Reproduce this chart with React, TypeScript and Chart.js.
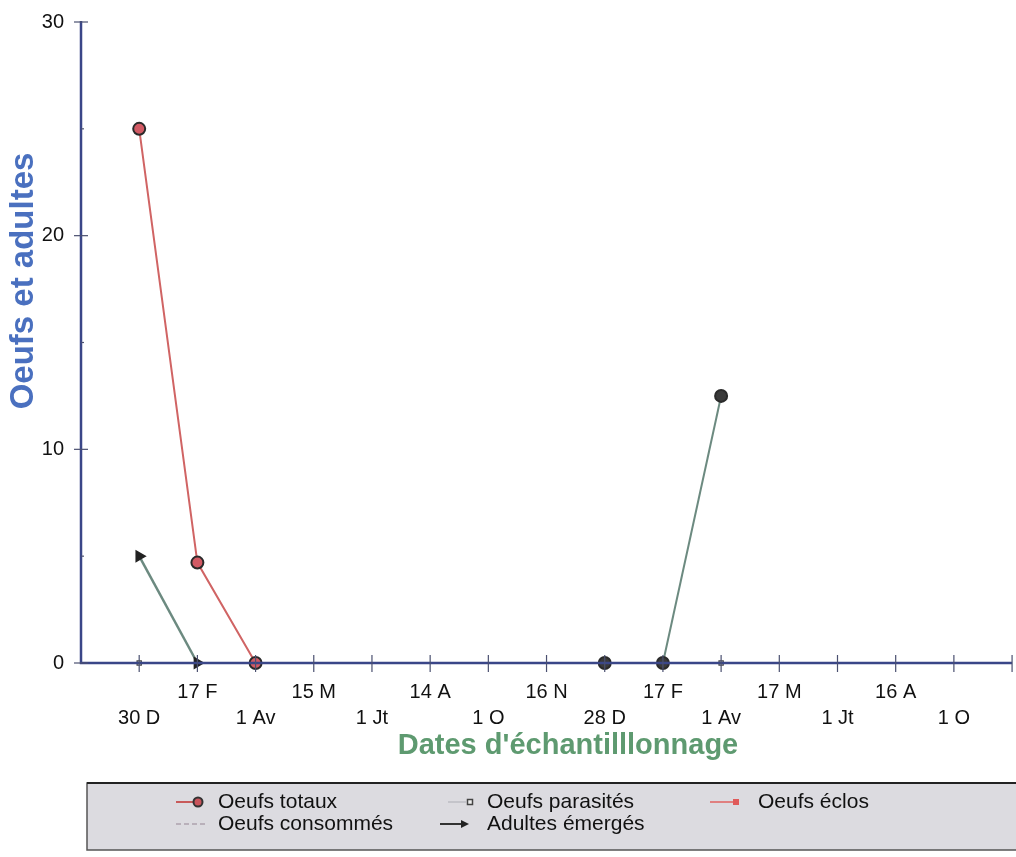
import React, { useEffect, useRef } from "react";
import { Chart, registerables } from "chart.js";

Chart.register(...registerables);

const categories = ["30 D", "17 F", "1 Av", "15 M", "1 Jt", "14 A", "1 O", "16 N", "28 D", "17 F", "1 Av", "17 M", "1 Jt", "16 A", "1 O"];
const oeufsTotaux: (number | null)[] = [25, 4.7, 0, null, null, null, null, null, 0, 0, 12.5, null, null, null, null];
const oeufsParasites: (number | null)[] = [0, null, null, null, null, null, null, null, null, null, 0, null, null, null, null];
const oeufsEclos: (number | null)[] = [0, 0, 0, null, null, null, null, null, 0, 0, 0, null, null, null, null];
const oeufsConsommes: (number | null)[] = [0, 0, 0, null, null, null, null, null, 0, 0, 0, null, null, null, null];
const adultesEmerges: (number | null)[] = [5, 0, null, null, null, null, null, null, null, null, null, null, null, null, null];
const yTicks = [0, 10, 20, 30];

const FONT = '"Liberation Sans", Arial, Helvetica, sans-serif';
const AXIS = "#3a4688";
const X_END = 16;

const toPts = (vals: (number | null)[]) => vals.map((v, i) => ({ x: i + 1, y: v }));

const zeroPad = (s: any) => {
  s.paddingLeft = 0;
  s.paddingRight = 0;
  s.paddingTop = 0;
  s.paddingBottom = 0;
};

const overlay = {
  id: "overlay",
  afterDatasetsDraw(chart: any) {
    const ctx = chart.ctx as CanvasRenderingContext2D;
    const xs = chart.scales.x;
    const ys = chart.scales.y;
    const y0 = ys.getPixelForValue(0);
    const left = xs.left;
    ctx.save();
    ctx.strokeStyle = AXIS;
    ctx.lineWidth = 2.5;
    ctx.beginPath();
    ctx.moveTo(left, ys.getPixelForValue(30) - 1);
    ctx.lineTo(left, y0);
    ctx.lineTo(xs.getPixelForValue(X_END), y0);
    ctx.stroke();
    ctx.lineWidth = 1.2;
    ctx.strokeStyle = "#4a5070";
    for (let v = 1; v <= X_END; v++) {
      const px = xs.getPixelForValue(v);
      ctx.beginPath();
      ctx.moveTo(px, y0 - 8);
      ctx.lineTo(px, y0 + 9);
      ctx.stroke();
    }
    yTicks.forEach((t) => {
      const py = ys.getPixelForValue(t);
      ctx.beginPath();
      ctx.moveTo(left - 7, py);
      ctx.lineTo(left + 7, py);
      ctx.stroke();
    });
    [5, 15, 25].forEach((t) => {
      const py = ys.getPixelForValue(t);
      ctx.beginPath();
      ctx.moveTo(left, py);
      ctx.lineTo(left + 3, py);
      ctx.stroke();
    });
    ctx.restore();
  },
  afterDraw(chart: any) {
    const ctx = chart.ctx as CanvasRenderingContext2D;
    ctx.save();
    ctx.fillStyle = "#4a70bf";
    ctx.font = `bold 33px ${FONT}`;
    ctx.textAlign = "center";
    ctx.textBaseline = "middle";
    ctx.translate(24, 281);
    ctx.rotate(-Math.PI / 2);
    ctx.fillText("Oeufs et adultes", 0, 0);
    ctx.setTransform(1, 0, 0, 1, 0, 0);
    ctx.fillStyle = "#5e9a70";
    ctx.font = `bold 29px ${FONT}`;
    ctx.fillText("Dates d'échantilllonnage", 568, 746);

    ctx.fillStyle = "#dcdbe0";
    ctx.fillRect(87, 783, 940, 67);
    ctx.strokeStyle = "#555";
    ctx.lineWidth = 1.5;
    ctx.strokeRect(87, 783, 940, 67);
    ctx.lineWidth = 2;
    ctx.strokeStyle = "#222";
    ctx.beginPath();
    ctx.moveTo(87, 783);
    ctx.lineTo(1016, 783);
    ctx.stroke();

    const r1 = 802;
    const r2 = 824;
    ctx.font = `21px ${FONT}`;
    ctx.fillStyle = "#111";
    ctx.textAlign = "left";
    ctx.textBaseline = "middle";
    ctx.fillText("Oeufs totaux", 218, r1);
    ctx.fillText("Oeufs parasités", 487, r1);
    ctx.fillText("Oeufs éclos", 758, r1);
    ctx.fillText("Oeufs consommés", 218, r2);
    ctx.fillText("Adultes émergés", 487, r2);

    ctx.lineWidth = 2;
    ctx.strokeStyle = "#c85a5a";
    ctx.beginPath(); ctx.moveTo(176, r1); ctx.lineTo(196, r1); ctx.stroke();
    ctx.beginPath(); ctx.arc(198, r1, 4.5, 0, Math.PI * 2);
    ctx.fillStyle = "#c9545c"; ctx.fill(); ctx.strokeStyle = "#333"; ctx.stroke();

    ctx.strokeStyle = "#c4c4ca";
    ctx.beginPath(); ctx.moveTo(448, r1); ctx.lineTo(466, r1); ctx.stroke();
    ctx.lineWidth = 1.5; ctx.strokeStyle = "#444"; ctx.fillStyle = "#eee";
    ctx.fillRect(467.5, r1 - 2.5, 5, 5); ctx.strokeRect(467.5, r1 - 2.5, 5, 5);

    ctx.lineWidth = 2; ctx.strokeStyle = "#e08080";
    ctx.beginPath(); ctx.moveTo(710, r1); ctx.lineTo(733, r1); ctx.stroke();
    ctx.fillStyle = "#e05a5a"; ctx.fillRect(733, r1 - 3, 6, 6);

    ctx.strokeStyle = "#b9b0ba"; ctx.setLineDash([5, 3]);
    ctx.beginPath(); ctx.moveTo(176, r2); ctx.lineTo(206, r2); ctx.stroke();
    ctx.setLineDash([]);

    ctx.strokeStyle = "#333";
    ctx.beginPath(); ctx.moveTo(440, r2); ctx.lineTo(461, r2); ctx.stroke();
    ctx.fillStyle = "#222";
    ctx.beginPath(); ctx.moveTo(461, r2 - 4); ctx.lineTo(469, r2); ctx.lineTo(461, r2 + 4); ctx.closePath(); ctx.fill();
    ctx.restore();
  },
};

export default function App() {
  const ref = useRef<HTMLCanvasElement | null>(null);
  useEffect(() => {
    if (!ref.current) return;
    const totauxFill = categories.map((_, i) => (i < 3 ? "#d25a64" : "#3a3a3a"));
    const chart = new Chart(ref.current, {
      type: "line",
      data: {
        datasets: [
          {
            label: "Oeufs consommés",
            data: toPts(oeufsConsommes),
            borderColor: "#b9b0ba",
            borderDash: [5, 3],
            borderWidth: 1.5,
            pointRadius: 0,
            spanGaps: false,
          },
          {
            label: "Oeufs éclos",
            data: toPts(oeufsEclos),
            borderColor: "#e08080",
            borderWidth: 1.5,
            pointRadius: 0,
            spanGaps: false,
          },
          {
            label: "Oeufs parasités",
            data: toPts(oeufsParasites),
            borderColor: "#c4c4ca",
            borderWidth: 1.5,
            pointStyle: "rect",
            pointRadius: 3,
            pointBackgroundColor: "#f4f4f4",
            pointBorderColor: "#444",
            pointBorderWidth: 1.2,
            spanGaps: false,
          },
          {
            label: "Adultes émergés",
            data: toPts(adultesEmerges),
            borderColor: "#6c8a80",
            borderWidth: 2.5,
            pointStyle: "triangle",
            rotation: 90,
            pointRadius: 5,
            pointBackgroundColor: "#222",
            pointBorderColor: "#222",
            spanGaps: false,
          },
          {
            label: "Oeufs totaux",
            data: toPts(oeufsTotaux),
            borderColor: "#d06464",
            borderWidth: 2,
            pointRadius: 6,
            pointBorderWidth: 2,
            pointBackgroundColor: totauxFill,
            pointBorderColor: "#2a2a2a",
            spanGaps: false,
            segment: {
              borderColor: (c: any) => (c.p0.parsed.x >= 10 ? "#6c8a80" : c.p0.parsed.x >= 9 ? "#111" : undefined),
            },
          },
        ],
      },
      options: {
        responsive: false,
        animation: false,
        clip: false,
        layout: { padding: { left: 0, top: 22, right: 0, bottom: 0 } },
        plugins: { legend: { display: false }, tooltip: { enabled: false } },
        scales: {
          x: {
            type: "linear",
            min: 0,
            max: 15.93,
            border: { display: false },
            grid: { display: false, drawTicks: false },
            afterFit: (s: any) => {
              s.height = 194;
              zeroPad(s);
            },
            afterBuildTicks: (s: any) => {
              s.ticks = Array.from({ length: 16 }, (_, i) => ({ value: i }));
            },
            ticks: {
              autoSkip: false,
              maxRotation: 0,
              padding: 16,
              color: "#111",
              font: { family: FONT, size: 20, lineHeight: 1.3 },
              callback: (v: any) => {
                const i = Number(v) - 1;
                if (i < 0 || i >= categories.length) return ["", ""];
                return i % 2 === 1 ? [categories[i], ""] : ["", categories[i]];
              },
            },
          },
          y: {
            min: 0,
            max: 30,
            border: { display: false },
            grid: { display: false, drawTicks: false },
            afterFit: (s: any) => {
              s.width = 81;
              zeroPad(s);
            },
            afterBuildTicks: (s: any) => {
              s.ticks = yTicks.map((v) => ({ value: v }));
            },
            ticks: {
              padding: 17,
              color: "#111",
              font: { family: FONT, size: 20 },
            },
          },
        },
      },
      plugins: [overlay],
    } as any);
    return () => chart.destroy();
  }, []);
  return (
    <div style={{ position: "absolute", left: 0, top: 0, width: 1016, height: 857, background: "#fff" }}>
      <canvas ref={ref} width={1016} height={857} style={{ display: "block" }} />
    </div>
  );
}
